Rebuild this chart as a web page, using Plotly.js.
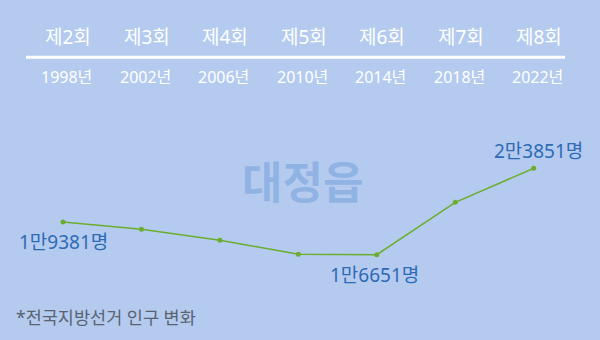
<!DOCTYPE html>
<html><head><meta charset="utf-8">
<script src="https://cdn.plot.ly/plotly-3.0.1.min.js"></script>
<style>html,body{margin:0;padding:0;background:#b4cbef}</style>
</head><body><div id="chart" style="width:600px;height:340px"></div>
<script>
const rounds = ["제2회","제3회","제4회","제5회","제6회","제7회","제8회"];
const years = ["1998년","2002년","2006년","2010년","2014년","2018년","2022년"];
const population = [19381, 18768, 17851, 16690, 16651, 21018, 23851];
const valueLabels = ["1만9381명", "", "", "", "1만6651명", "", "2만3851명"];
const watermark = "대정읍";
const footnote = "*전국지방선거 인구 변화";

const font = "Noto Sans, Noto Sans CJK KR, sans-serif";
const idx = rounds.map((_, i) => i);
const H = 340;

const annotations = [];
rounds.forEach((r, i) => {
  annotations.push({x: i + 0.07, xref: 'x', y: 1 - 37/H, yref: 'paper', yanchor: 'middle', text: r, showarrow: false,
    font: {family: font, size: 19, color: '#ffffff'}});
  annotations.push({x: i + 0.05, xref: 'x', y: 1 - 77/H, yref: 'paper', yanchor: 'middle', text: years[i], showarrow: false,
    font: {family: font, size: 16, color: '#ffffff'}});
});
valueLabels.forEach((t, i) => {
  if (!t) return;
  const above = i === population.length - 1;
  annotations.push({x: i, xref: 'x', y: population[i], yref: 'y', text: t, showarrow: false,
    xshift: i === 0 ? 0 : (above ? 5 : -2), yshift: above ? 17 : -20,
    font: {family: font, size: 19, color: '#2e6ab5'}});
});
annotations.push({x: 302/600, xref: 'paper', y: 1 - 182/H, yref: 'paper', yanchor: 'middle', text: '<b>' + watermark + '</b>', showarrow: false,
  font: {family: font, size: 44, color: 'rgba(95,145,210,0.42)'}});
annotations.push({x: 14/600, xref: 'paper', xanchor: 'left', y: 1 - 317/H, yref: 'paper', yanchor: 'middle', text: footnote, showarrow: false,
  font: {family: font, size: 17.5, color: '#5b6270'}});

const trace = {
  x: idx, y: population, type: 'scatter', mode: 'lines+markers',
  line: {color: '#6cad2f', width: 1.5},
  marker: {color: '#6cad2f', size: 5},
  hoverinfo: 'skip'
};

const layout = {
  width: 600, height: 340,
  margin: {l: 0, r: 0, t: 0, b: 0},
  paper_bgcolor: '#b4cbef', plot_bgcolor: '#b4cbef',
  showlegend: false,
  xaxis: {range: [-0.803, 6.845], visible: false, fixedrange: true},
  yaxis: {range: [9543, 37876], visible: false, fixedrange: true},
  shapes: [{type: 'line', xref: 'paper', yref: 'paper', x0: 26/600, x1: 565/600, y0: 1 - 57.3/H, y1: 1 - 57.3/H,
    line: {color: '#ffffff', width: 3}}],
  annotations: annotations
};
Plotly.newPlot('chart', [trace], layout, {staticPlot: true, displayModeBar: false});
</script></body></html>
